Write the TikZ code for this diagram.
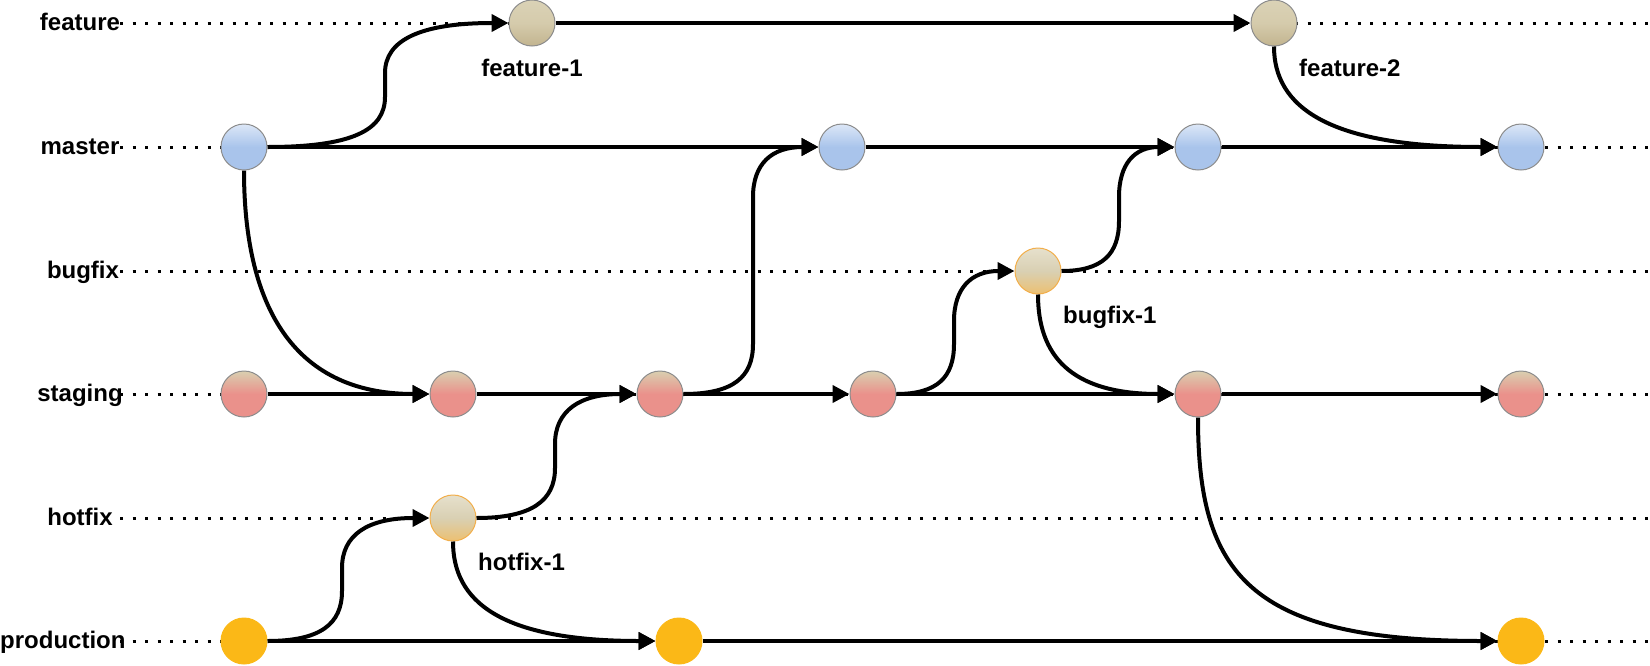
\documentclass[tikz,border=0pt]{standalone}
\usepackage{fontspec}
\setmainfont{Liberation Sans}
\usetikzlibrary{arrows.meta}
\definecolor{masterC}{HTML}{A9C4EB}
\definecolor{masterTop}{HTML}{DCE7F7}
\definecolor{featTop}{HTML}{DAD2B6}
\definecolor{featMid}{HTML}{D5CBAC}
\definecolor{featBot}{HTML}{C2B48F}
\definecolor{stagBeige}{HTML}{D9CFB0}
\definecolor{stagPink}{HTML}{EA918B}
\definecolor{fixTop}{HTML}{E6E0CC}
\definecolor{fixMid}{HTML}{D9D0B3}
\definecolor{fixBot}{HTML}{ECC071}
\definecolor{fixBorder}{HTML}{F2AE4A}
\definecolor{prodC}{HTML}{FBB817}
\definecolor{borderGray}{HTML}{8C8C8C}
\begin{document}
\begin{tikzpicture}[x=1pt,y=-1pt,
  commit/.style={circle, minimum size=46pt, inner sep=0pt, line width=1pt},
  mastercommit/.style={commit, draw=borderGray, top color=masterTop, bottom color=masterC, middle color=masterC},
  featcommit/.style={commit, draw=borderGray, top color=featTop, bottom color=featBot, middle color=featMid},
  stagcommit/.style={commit, draw=borderGray, top color=stagBeige, bottom color=stagPink, middle color=stagPink},
  fixcommit/.style={commit, draw=fixBorder, top color=fixTop, bottom color=fixBot, middle color=fixMid},
  prodcommit/.style={commit, draw=prodC, fill=prodC},
  conn/.style={line width=4pt, -{Triangle[length=17pt,width=17pt]}},
  guide/.style={line width=3pt, dash pattern=on 3pt off 9.5pt},
  txt/.style={font=\fontsize{24}{28}\selectfont\bfseries, inner sep=0pt, anchor=base},
  ]
\useasboundingbox (0,0) rectangle (1650,665);
% row guides
\foreach \y/\n in {23/F,147/M,271/B,394/S,518/H,641/P} {
  \coordinate (g\n a) at (120,\y);
  \coordinate (g\n b) at (1650,\y);
  \draw[guide] (g\n a) -- (g\n b);
}
% row labels
\node[txt] (lF) at (80,30) {feature};
\node[txt] (lM) at (80,154) {master};
\node[txt] (lB) at (83,278) {bugfix};
\node[txt] (lS) at (80,401) {staging};
\node[txt] (lH) at (80,525) {hotfix};
\node[txt, anchor=base west] (lP) at (0,648) {production};
% commits
\node[mastercommit] (M1) at (244,147) {};
\node[mastercommit] (M2) at (842,147) {};
\node[mastercommit] (M3) at (1198,147) {};
\node[mastercommit] (M4) at (1521,147) {};
\node[featcommit] (F1) at (532,23) {};
\node[featcommit] (F2) at (1274,23) {};
\node[fixcommit] (B1) at (1038,271) {};
\node[stagcommit] (S1) at (244,394) {};
\node[stagcommit] (S2) at (453,394) {};
\node[stagcommit] (S3) at (660,394) {};
\node[stagcommit] (S4) at (873,394) {};
\node[stagcommit] (S5) at (1198,394) {};
\node[stagcommit] (S6) at (1521,394) {};
\node[fixcommit] (H1) at (453,518) {};
\node[prodcommit] (P1) at (244,641) {};
\node[prodcommit] (P2) at (679,641) {};
\node[prodcommit] (P3) at (1521,641) {};
% commit labels
\node[txt] (tF1) at (532,76) {feature-1};
\node[txt, anchor=base west] (tF2) at (1299,76) {feature-2};
\node[txt, anchor=base west] (tB1) at (1063,323) {bugfix-1};
\node[txt, anchor=base west] (tH1) at (478,570) {hotfix-1};
% straight connectors
\draw[conn] (M1.east) -- (M2.west);
\draw[conn] (M2.east) -- (M3.west);
\draw[conn] (M3.east) -- (M4.west);
\draw[conn] (F1.east) -- (F2.west);
\draw[conn] (S1.east) -- (S2.west);
\draw[conn] (S2.east) -- (S3.west);
\draw[conn] (S3.east) -- (S4.west);
\draw[conn] (S4.east) -- (S5.west);
\draw[conn] (S5.east) -- (S6.west);
\draw[conn] (P1.east) -- (P2.west);
\draw[conn] (P2.east) -- (P3.west);
% S-shaped connectors (up)
\coordinate (mf1) at (385,97); \coordinate (mf2) at (385,73);
\draw[conn] (M1.east) .. controls +(85,0) and +(0,33) .. (mf1) -- (mf2) .. controls +(0,-33) and +(-88,0) .. (F1.west);
\coordinate (hs1) at (555,468); \coordinate (hs2) at (555,444);
\draw[conn] (H1.east) .. controls +(55,0) and +(0,33) .. (hs1) -- (hs2) .. controls +(0,-33) and +(-57,0) .. (S3.west);
\coordinate (sm1) at (753,344); \coordinate (sm2) at (753,197);
\draw[conn] (S3.east) .. controls +(50,0) and +(0,33) .. (sm1) -- (sm2) .. controls +(0,-33) and +(-47,0) .. (M2.west);
\coordinate (sb1) at (954,344); \coordinate (sb2) at (954,321);
\draw[conn] (S4.east) .. controls +(41,0) and +(0,33) .. (sb1) -- (sb2) .. controls +(0,-33) and +(-43,0) .. (B1.west);
\coordinate (bm1) at (1119,221); \coordinate (bm2) at (1119,197);
\draw[conn] (B1.east) .. controls +(41,0) and +(0,33) .. (bm1) -- (bm2) .. controls +(0,-33) and +(-40,0) .. (M3.west);
\coordinate (ph1) at (342,591); \coordinate (ph2) at (342,568);
\draw[conn] (P1.east) .. controls +(53,0) and +(0,33) .. (ph1) -- (ph2) .. controls +(0,-33) and +(-62,0) .. (H1.west);
% L-shaped connectors (down)
\draw[conn] (M1.south) .. controls +(0,130) and +(-140,0) .. (S2.west);
\draw[conn] (F2.south) .. controls +(0,60) and +(-170,0) .. (M4.west);
\draw[conn] (B1.south) .. controls +(0,60) and +(-105,0) .. (S5.west);
\draw[conn] (S5.south) .. controls +(0,155) and +(-250,0) .. (P3.west);
\draw[conn] (H1.south) .. controls +(0,60) and +(-155,0) .. (P2.west);
\end{tikzpicture}
\end{document}
